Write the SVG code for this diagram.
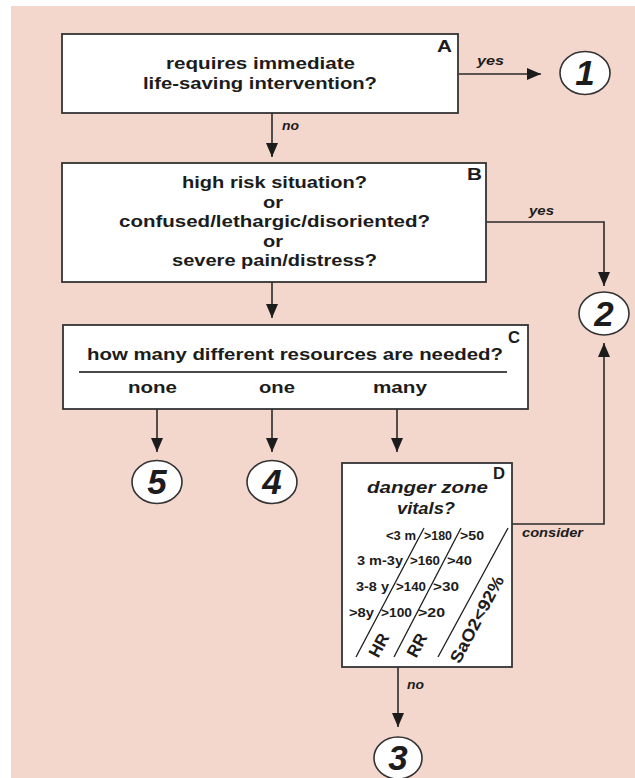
<svg xmlns="http://www.w3.org/2000/svg" width="635" height="778" viewBox="0 0 635 778">
<style>
.box{fill:#fff;stroke:#333;stroke-width:1.8}
.circ{fill:#fff;stroke:#333;stroke-width:1.6}
.line{fill:none;stroke:#2a2a2a;stroke-width:1.6}
.t{font-family:"Liberation Sans",Arial,sans-serif;font-weight:bold;fill:#1c1c1c}
.m{font-size:17px}
.lab{font-size:16px}
.e{font-size:12.5px;font-style:italic}
.n{font-size:35px;font-style:italic;text-anchor:middle}
.v{font-size:12px}
.r{font-size:16px}
</style>
<defs>
<marker id="ah" markerUnits="userSpaceOnUse" markerWidth="14" markerHeight="12" refX="14" refY="6" orient="auto">
<path d="M0,0 L14,6 L0,12 z" fill="#1c1c1c"/>
</marker>
</defs>
<rect x="0" y="0" width="635" height="778" fill="#ffffff"/>
<rect x="11" y="6" width="624" height="772" fill="#f3d6cc"/>

<g id="connectors">
<path class="line" d="M459,74 H541" marker-end="url(#ah)"/>
<path class="line" d="M272,113 V157" marker-end="url(#ah)"/>
<path class="line" d="M486,222 H604 V286" marker-end="url(#ah)"/>
<path class="line" d="M272,282 V318" marker-end="url(#ah)"/>
<path class="line" d="M157,409 V452" marker-end="url(#ah)"/>
<path class="line" d="M272,409 V452" marker-end="url(#ah)"/>
<path class="line" d="M397,409 V452" marker-end="url(#ah)"/>
<path class="line" d="M512,524 H604 V343" marker-end="url(#ah)"/>
<path class="line" d="M398,667 V727" marker-end="url(#ah)"/>
<text class="t e" x="477" y="65" textLength="27" lengthAdjust="spacingAndGlyphs">yes</text>
<text class="t e" x="282" y="130" textLength="17" lengthAdjust="spacingAndGlyphs">no</text>
<text class="t e" x="529" y="215" textLength="25" lengthAdjust="spacingAndGlyphs">yes</text>
<text class="t e" x="522" y="537" textLength="61" lengthAdjust="spacingAndGlyphs">consider</text>
<text class="t e" x="407" y="689" textLength="17" lengthAdjust="spacingAndGlyphs">no</text>
</g>

<g id="nodeA">
<rect class="box" x="62" y="34" width="396" height="79"/>
<text class="t m" x="166" y="69" textLength="189" lengthAdjust="spacingAndGlyphs">requires immediate</text>
<text class="t m" x="143" y="89" textLength="234" lengthAdjust="spacingAndGlyphs">life-saving intervention?</text>
<text class="t lab" x="437" y="52" textLength="15" lengthAdjust="spacingAndGlyphs">A</text>
</g>

<g id="nodeB">
<rect class="box" x="62" y="163" width="424" height="119"/>
<text class="t m" x="182" y="188" textLength="185" lengthAdjust="spacingAndGlyphs">high risk situation?</text>
<text class="t m" x="263" y="207.5" textLength="20" lengthAdjust="spacingAndGlyphs">or</text>
<text class="t m" x="119" y="227" textLength="311" lengthAdjust="spacingAndGlyphs">confused/lethargic/disoriented?</text>
<text class="t m" x="263" y="247" textLength="20" lengthAdjust="spacingAndGlyphs">or</text>
<text class="t m" x="172" y="266" textLength="205" lengthAdjust="spacingAndGlyphs">severe pain/distress?</text>
<text class="t lab" x="467" y="180" textLength="15" lengthAdjust="spacingAndGlyphs">B</text>
</g>

<g id="nodeC">
<rect class="box" x="63" y="325" width="465" height="84"/>
<text class="t m" x="87" y="360" textLength="416" lengthAdjust="spacingAndGlyphs">how many different resources are needed?</text>
<line x1="79" y1="372" x2="507" y2="372" stroke="#4a4a4a" stroke-width="2"/>
<text class="t m" x="128" y="393" textLength="49" lengthAdjust="spacingAndGlyphs">none</text>
<text class="t m" x="259" y="393" textLength="36" lengthAdjust="spacingAndGlyphs">one</text>
<text class="t m" x="373" y="393" textLength="54" lengthAdjust="spacingAndGlyphs">many</text>
<text class="t lab" x="508" y="343" textLength="12" lengthAdjust="spacingAndGlyphs">C</text>
</g>

<g id="nodeD">
<rect class="box" x="342" y="463" width="170" height="204"/>
<text class="t lab" x="493" y="479" textLength="12" lengthAdjust="spacingAndGlyphs">D</text>
<text class="t r" x="367" y="493" font-style="italic" textLength="121" lengthAdjust="spacingAndGlyphs">danger zone</text>
<text class="t r" x="397" y="514" font-style="italic" textLength="58" lengthAdjust="spacingAndGlyphs">vitals?</text>
<line x1="424" y1="528" x2="356" y2="657" stroke="#1c1c1c" stroke-width="1.3"/>
<line x1="461" y1="528" x2="394" y2="657" stroke="#1c1c1c" stroke-width="1.3"/>
<line x1="508" y1="528" x2="438" y2="657" stroke="#1c1c1c" stroke-width="1.3"/>
<text class="t v" x="386" y="540" textLength="30" lengthAdjust="spacingAndGlyphs">&lt;3 m</text>
<text class="t v" x="424" y="540" textLength="28" lengthAdjust="spacingAndGlyphs">&gt;180</text>
<text class="t v" x="460" y="540" textLength="24" lengthAdjust="spacingAndGlyphs">&gt;50</text>
<text class="t v" x="357" y="565" textLength="46" lengthAdjust="spacingAndGlyphs">3 m-3y</text>
<text class="t v" x="410" y="565" textLength="30" lengthAdjust="spacingAndGlyphs">&gt;160</text>
<text class="t v" x="447" y="565" textLength="25" lengthAdjust="spacingAndGlyphs">&gt;40</text>
<text class="t v" x="356" y="591" textLength="33" lengthAdjust="spacingAndGlyphs">3-8 y</text>
<text class="t v" x="396" y="591" textLength="30" lengthAdjust="spacingAndGlyphs">&gt;140</text>
<text class="t v" x="433" y="591" textLength="26" lengthAdjust="spacingAndGlyphs">&gt;30</text>
<text class="t v" x="349" y="617" textLength="25" lengthAdjust="spacingAndGlyphs">&gt;8y</text>
<text class="t v" x="381" y="617" textLength="31" lengthAdjust="spacingAndGlyphs">&gt;100</text>
<text class="t v" x="418" y="617" textLength="27" lengthAdjust="spacingAndGlyphs">&gt;20</text>
<text class="t" font-size="17" transform="translate(384,648) rotate(-62)" text-anchor="middle">HR</text>
<text class="t" font-size="17" transform="translate(422,648) rotate(-62)" text-anchor="middle">RR</text>
<text class="t" font-size="17" transform="translate(482,622) rotate(-62)" text-anchor="middle" textLength="96" lengthAdjust="spacingAndGlyphs">SaO2&lt;92%</text>
</g>

<g id="circle1">
<ellipse class="circ" cx="585" cy="73" rx="25" ry="21.5"/>
<text class="t n" x="585" y="85">1</text>
</g>
<g id="circle2">
<ellipse class="circ" cx="604" cy="313.5" rx="25" ry="21.5"/>
<text class="t n" x="604" y="326">2</text>
</g>
<g id="circle5">
<ellipse class="circ" cx="157" cy="482" rx="25" ry="21.5"/>
<text class="t n" x="157" y="494">5</text>
</g>
<g id="circle4">
<ellipse class="circ" cx="272" cy="482" rx="25" ry="21.5"/>
<text class="t n" x="272" y="494">4</text>
</g>
<g id="circle3">
<ellipse class="circ" cx="398" cy="758" rx="24" ry="21"/>
<text class="t n" x="398" y="770">3</text>
</g>
</svg>
